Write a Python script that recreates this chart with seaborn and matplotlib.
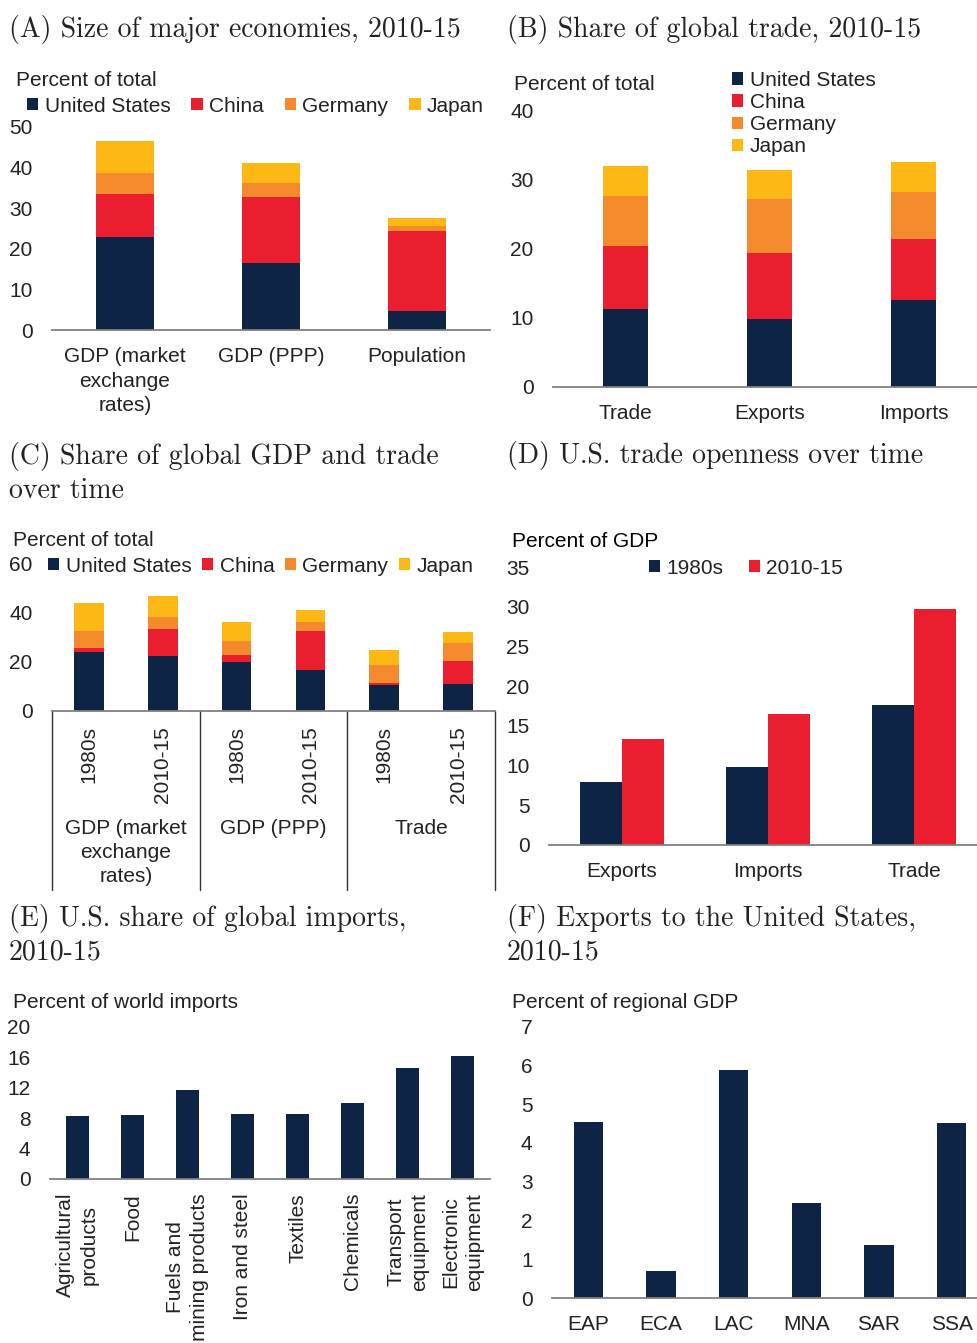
import matplotlib
matplotlib.use('Agg')
import matplotlib.pyplot as plt
import matplotlib.transforms as mtransforms
from matplotlib.patches import Patch
from matplotlib.lines import Line2D
import numpy as np
import seaborn as sns

W, H = 977, 1343

countries = ["United States", "China", "Germany", "Japan"]
colors = ["#0E2444", "#EB1E2F", "#F58A2D", "#FDB813"]

# (A) size of major economies
a_cats = ["GDP (market\nexchange\nrates)", "GDP (PPP)", "Population"]
a_us = [22.8, 16.6, 4.6]
a_cn = [10.6, 16.2, 19.8]
a_de = [5.2, 3.4, 1.2]
a_jp = [8.0, 4.8, 1.9]

# (B) share of global trade
b_cats = ["Trade", "Exports", "Imports"]
b_us = [11.2, 9.8, 12.6]
b_cn = [9.2, 9.6, 8.8]
b_de = [7.2, 7.8, 6.8]
b_jp = [4.3, 4.1, 4.3]

# (C) share of global GDP and trade over time
c_groups = ["GDP (market\nexchange\nrates)", "GDP (PPP)", "Trade"]
c_periods = ["1980s", "2010-15"]
c_us = [23.8, 22.5, 20.1, 16.5, 10.4, 11.1]
c_cn = [1.8, 10.8, 2.7, 16.2, 1.0, 9.4]
c_de = [7.1, 5.0, 5.8, 3.6, 7.4, 7.3]
c_jp = [11.2, 8.4, 7.4, 4.6, 6.0, 4.2]

# (D) U.S. trade openness
d_cats = ["Exports", "Imports", "Trade"]
d_1980s = [8.0, 9.8, 17.7]
d_2010 = [13.3, 16.5, 29.7]

# (E) U.S. share of global imports
e_cats = ["Agricultural\nproducts", "Food", "Fuels and\nmining products",
          "Iron and steel", "Textiles", "Chemicals",
          "Transport\nequipment", "Electronic\nequipment"]
e_vals = [8.3, 8.4, 11.7, 8.5, 8.5, 10.0, 14.6, 16.2]

# (F) exports to the US
f_cats = ["EAP", "ECA", "LAC", "MNA", "SAR", "SSA"]
f_vals = [4.54, 0.70, 5.87, 2.45, 1.37, 4.52]

sns.set_theme(style="white")
plt.rcParams['font.family'] = ['Liberation Sans', 'DejaVu Sans']
TXT = "#222222"
FS = 15

fig = plt.figure(figsize=(W / 100, H / 100), dpi=100)
fig.patch.set_facecolor("white")


def box(l, t, r, b):
    return [l / W, 1 - b / H, (r - l) / W, (b - t) / H]


def style(ax, top, step):
    ax.set_ylim(0, top)
    ax.set_yticks(np.arange(0, top + step / 2, step))
    sns.despine(ax=ax, left=True)
    ax.spines['bottom'].set_color('#808080')
    ax.spines['bottom'].set_linewidth(1.3)
    ax.tick_params(length=0, labelsize=FS, colors=TXT)
    ax.tick_params(axis='y', pad=14)
    ax.tick_params(axis='x', pad=12.5)
    ax.set_xlabel("")
    ax.set_ylabel("")
    ax.patch.set_alpha(0)
    for t in ax.get_xticklabels():
        t.set_linespacing(1.35)


def stacked(ax, keys, layers, width):
    cum = np.sum(np.array(layers), axis=0)
    for vals, col in zip(layers[::-1], colors[::-1]):
        sns.barplot(x=keys, y=cum, color=col, width=width, saturation=1,
                    linewidth=0, ax=ax)
        cum = cum - np.array(vals)


def title(x, y, s):
    # y is the baseline of the last line
    fig.text(x / W, 1 - y / H, s, fontfamily='cmr10', fontsize=20,
             va='baseline', ha='left', color=TXT, linespacing=1.33)


def unit(x, y, s, color=TXT):
    fig.text(x / W, 1 - y / H, s, fontsize=FS, va='baseline', ha='left', color=color)


handles = [Patch(facecolor=c, edgecolor='none') for c in colors]
leg_kw = dict(frameon=False, fontsize=FS, handlelength=0.55, handleheight=0.55,
              handletextpad=0.3, borderpad=0, borderaxespad=0, labelcolor=TXT)

# ---------------- (A)
ax = fig.add_axes(box(52, 126.7, 490, 330))
stacked(ax, a_cats, [a_us, a_cn, a_de, a_jp], 0.40)
style(ax, 50, 10)
title(9, 37, "(A) Size of major economies, 2010-15")
unit(16, 86, "Percent of total")
fig.legend(handles, countries, loc='center left', bbox_to_anchor=(27 / W, 1 - 106 / H),
           ncol=4, columnspacing=1.0, **leg_kw)

# ---------------- (B)
ax = fig.add_axes(box(553, 110, 986, 386.7))
stacked(ax, b_cats, [b_us, b_cn, b_de, b_jp], 0.31)
style(ax, 40, 10)
title(507, 37, "(B) Share of global trade, 2010-15")
unit(514, 90, "Percent of total")
fig.legend(handles, countries, loc='upper left', bbox_to_anchor=(732 / W, 1 - 71 / H),
           ncol=1, labelspacing=0.15, **leg_kw)

# ---------------- (C)
ax = fig.add_axes(box(52, 563.3, 495, 711))
c_keys = [f"{g}|{p}" for g in c_groups for p in c_periods]
stacked(ax, c_keys, [c_us, c_cn, c_de, c_jp], 0.40)
style(ax, 60, 20)
ax.set_xticks(range(len(c_keys)))
ax.set_xticklabels(c_periods * len(c_groups), rotation=90, va='top')
ax.tick_params(axis='x', pad=11)
trans = mtransforms.blended_transform_factory(ax.transData, ax.transAxes)
depth = (890 - 711) / (711 - 563.3)
for i, g in enumerate(c_groups):
    ax.text(2 * i + 0.5, -(819 - 711) / (711 - 563.3), g, transform=trans,
            ha='center', va='top', fontsize=FS, color=TXT, linespacing=1.35)
for xb in [-0.5, 1.5, 3.5, 5.5]:
    ax.add_line(Line2D([xb, xb], [0, -depth], transform=trans, color='#333333',
                       lw=1.0, clip_on=False))
title(9, 498, "(C) Share of global GDP and trade\nover time")
unit(13, 546, "Percent of total")
fig.legend(handles, countries, loc='center left', bbox_to_anchor=(48 / W, 1 - 566 / H),
           ncol=4, columnspacing=0.5, **leg_kw)

# ---------------- (D)
ax = fig.add_axes(box(549, 567.3, 987, 845))
d_x = d_cats * 2
d_y = d_1980s + d_2010
d_hue = ["1980s"] * len(d_cats) + ["2010-15"] * len(d_cats)
sns.barplot(x=d_x, y=d_y, hue=d_hue, palette=[colors[0], colors[1]], width=0.57,
            saturation=1, linewidth=0, ax=ax, legend=False)
style(ax, 35, 5)
title(507, 463, "(D) U.S. trade openness over time")
unit(512, 547, "Percent of GDP", color="#000000")
fig.legend(handles[:2], ["1980s", "2010-15"], loc='center left',
           bbox_to_anchor=(649 / W, 1 - 568 / H), ncol=2, columnspacing=1.2, **leg_kw)

# ---------------- (E)
ax = fig.add_axes(box(50, 1026.7, 490, 1179))
sns.barplot(x=e_cats, y=e_vals, color=colors[0], width=0.42, saturation=1,
            linewidth=0, ax=ax)
style(ax, 20, 4)
ax.set_xticks(range(len(e_cats)))
ax.set_xticklabels(e_cats, rotation=90, va='top', ha='center', multialignment='center',
                   linespacing=1.3)
ax.tick_params(axis='x', pad=10)
title(9, 960, "(E) U.S. share of global imports,\n2010-15")
unit(13, 1008, "Percent of world imports")

# ---------------- (F)
ax = fig.add_axes(box(552, 1026.7, 988, 1298))
sns.barplot(x=f_cats, y=f_vals, color=colors[0], width=0.40, saturation=1,
            linewidth=0, ax=ax)
style(ax, 7, 1)
title(507, 960, "(F) Exports to the United States,\n2010-15")
unit(512, 1008, "Percent of regional GDP")

fig.savefig("out.png", dpi=100)
